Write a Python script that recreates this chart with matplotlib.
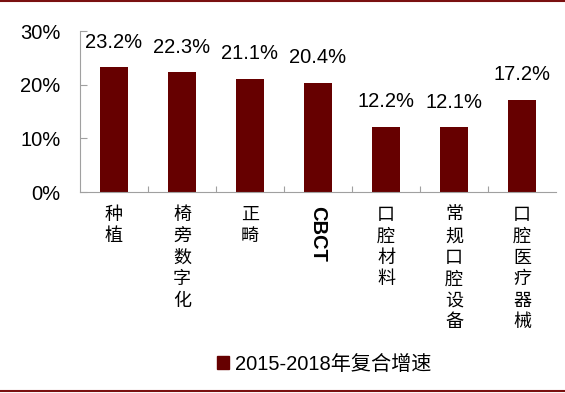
import matplotlib
matplotlib.use("Agg")
import matplotlib.pyplot as plt
from matplotlib.patches import Patch
from matplotlib.lines import Line2D

plt.rcParams['font.family'] = ['Liberation Sans', 'Noto Sans CJK SC', 'DejaVu Sans']

categories = ['种植', '椅旁数字化', '正畸', 'CBCT', '口腔材料', '常规口腔设备', '口腔医疗器械']
values = [23.2, 22.3, 21.1, 20.4, 12.2, 12.1, 17.2]
yticks = [0, 10, 20, 30]
legend_label = '2015-2018年复合增速'

bar_color = '#660000'
axis_color = '#a0a0a0'

fig = plt.figure(figsize=(5.65, 3.93), dpi=100)
ax = fig.add_axes([80 / 565, 201 / 393, 476 / 565, 161 / 393])

x = list(range(len(categories)))
ax.bar(x, values, width=0.4, color=bar_color)

ax.set_xlim(-0.5, len(categories) - 0.5)
ax.set_ylim(0, 30)
ax.set_yticks(yticks)
ax.set_yticklabels([f'{v}%' for v in yticks], fontsize=14.5)
ax.tick_params(axis='y', direction='in', length=5, color=axis_color, pad=14)
ax.set_xticks([i + 0.5 for i in x[:-1]])
ax.set_xticklabels([])
ax.tick_params(axis='x', direction='in', length=4, color=axis_color)

for s in ['top', 'right']:
    ax.spines[s].set_visible(False)
for s in ['left', 'bottom']:
    ax.spines[s].set_color(axis_color)

# value labels above the bars
for i, v in enumerate(values):
    ax.annotate(f'{v}%', xy=(i, v), xytext=(0, 11), textcoords='offset points',
                ha='center', va='bottom', fontsize=14.5)

# category labels: Chinese stacked vertically, latin rotated
for i, c in enumerate(categories):
    if c.isascii():
        ax.annotate(c, xy=(i, 0), xycoords=('data', 'axes fraction'),
                    xytext=(0, -10), textcoords='offset points',
                    ha='center', va='top', rotation=-90, fontsize=14.5,
                    fontweight='bold')
    else:
        ax.annotate('\n'.join(c), xy=(i, 0), xycoords=('data', 'axes fraction'),
                    xytext=(0, -10), textcoords='offset points',
                    ha='center', va='top', fontsize=13, linespacing=1.25,
                    family=['Noto Sans CJK SC', 'DejaVu Sans'])

fig.legend(handles=[Patch(color=bar_color)], labels=[legend_label],
           loc='center', bbox_to_anchor=(324 / 565, 1 - 364 / 393),
           frameon=False, handlelength=0.6, handleheight=0.6,
           handletextpad=0.3, prop={'family': ['Liberation Sans', 'Noto Sans CJK SC'], 'size': 14.5})

# dark red rule lines at top and bottom of the figure
fig.add_artist(Line2D([0, 1], [0.997, 0.997], color='#7a1010', lw=1.5, transform=fig.transFigure))
fig.add_artist(Line2D([0, 1], [0.006, 0.006], color='#7a1010', lw=1.5, transform=fig.transFigure))

fig.savefig('out.png', dpi=100)
